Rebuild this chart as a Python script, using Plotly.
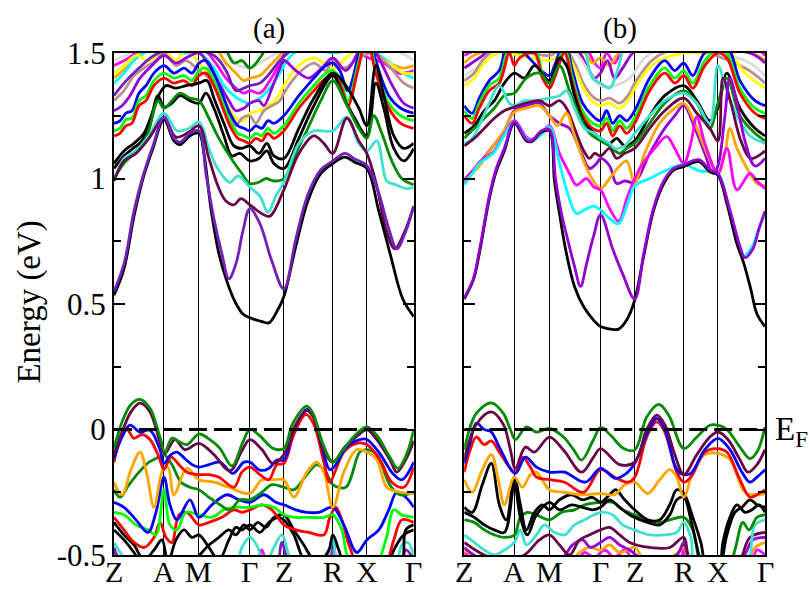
import plotly.graph_objects as go

# ---------------- axis data ----------------
K_TICKS = [0, 50, 85, 136, 170, 219, 253, 300]
K_LABELS = ["Z", "A", "M", "Γ", "Z", "R", "X", "Γ"]
E_TICKS = [-0.5, 0, 0.5, 1, 1.5]
E_LABELS = ["-0.5", "0", "0.5", "1", "1.5"]
E_MINOR = [-0.25, 0.25, 0.75, 1.25]
FERMI = [0.0, 0.0]
FERMI_K = [0, 300]

# ---------------- panel (a): conduction bands ----------------
A_C1 = [(0,0.535),(10,0.64),(20,0.85),(29,1.0),(39,1.12),(50,1.235),(60,1.15),(66,1.135),(76,1.17),(85,1.18),(90,1.10),(97,0.88),(105,0.70),(113,0.59),(121,0.51),(129,0.46),(136,0.445),(148,0.43),(155,0.425),(163,0.47),(170,0.53),(182,0.73),(194,0.91),(207,1.02),(219,1.06),(231,1.085),(241,1.065),(253,1.04),(265,0.87),(277,0.69),(289,0.52),(300,0.45)]
A_C2 = [(0,0.55),(10,0.66),(20,0.87),(29,1.01),(39,1.13),(50,1.245),(60,1.16),(66,1.145),(76,1.18),(85,1.19),(92,1.02),(100,0.84),(108,0.70),(115,0.60),(122,0.66),(129,0.79),(136,0.88),(146,0.82),(158,0.67),(170,0.56),(182,0.76),(194,0.935),(207,1.035),(219,1.07),(231,1.10),(241,1.078),(253,1.052),(265,0.94),(275,0.80),(283,0.72),(292,0.79),(300,0.89)]
A_C3 = [(0,0.99),(10,1.07),(22,1.10),(35,1.16),(50,1.24),(62,1.165),(75,1.185),(85,1.21),(95,1.08),(105,0.96),(112,0.91),(120,0.895),(127,0.92),(136,0.895),(148,0.86),(156,0.85),(170,0.955),(185,1.10),(200,1.17),(210,1.14),(219,1.10),(233,1.24),(245,1.15),(253,1.10),(263,0.97),(272,0.80),(281,0.72),(290,0.78),(300,0.89)]
A_C4 = [(0,0.99),(10,1.08),(22,1.11),(35,1.17),(50,1.26),(63,1.19),(75,1.20),(85,1.225),(95,1.12),(103,1.045),(116,0.985),(124,1.01),(136,0.965),(146,0.93),(154,0.865),(162,0.93),(170,0.985),(185,1.14),(200,1.19),(219,1.19),(233,1.245),(245,1.14),(253,1.11),(263,1.15),(273,0.99),(282,0.975),(292,0.96),(300,0.965)]
A_C5 = [(0,1.0),(10,1.06),(20,1.10),(33,1.17),(44,1.31),(50,1.28),(58,1.31),(66,1.34),(76,1.32),(85,1.31),(95,1.24),(105,1.16),(119,1.07),(128,1.02),(136,0.98),(145,0.985),(152,1.0),(160,0.99),(170,1.0),(182,1.10),(194,1.20),(207,1.31),(219,1.39),(232,1.30),(245,1.20),(253,1.16),(260,1.25),(268,1.18),(278,1.07),(288,1.0),(300,0.975)]
A_C6 = [(0,1.04),(10,1.09),(19,1.12),(28,1.15),(36,1.22),(44,1.33),(50,1.285),(58,1.30),(66,1.33),(76,1.31),(85,1.30),(92,1.34),(100,1.28),(110,1.17),(118,1.09),(126,1.10),(136,1.07),(145,1.08),(153,1.11),(160,1.06),(170,1.04),(185,1.16),(200,1.29),(219,1.41),(230,1.32),(241,1.24),(253,1.17),(262,1.38),(270,1.28),(280,1.12),(290,1.07),(300,1.12)]
A_C7 = [(0,1.06),(10,1.11),(20,1.14),(30,1.18),(40,1.28),(46,1.34),(52,1.37),(62,1.36),(72,1.37),(85,1.38),(93,1.39),(100,1.32),(110,1.22),(120,1.13),(128,1.12),(136,1.13),(145,1.10),(153,1.14),(160,1.09),(170,1.08),(185,1.20),(200,1.32),(219,1.42),(232,1.37),(245,1.28),(253,1.21),(262,1.45),(270,1.33),(280,1.17),(290,1.12),(300,1.14)]
A_C8 = [(0,1.17),(6,1.18),(12,1.21),(18,1.22),(25,1.29),(32,1.31),(40,1.37),(50,1.40),(60,1.38),(70,1.39),(78,1.37),(85,1.41),(92,1.42),(100,1.37),(108,1.29),(116,1.21),(124,1.16),(130,1.15),(136,1.14),(142,1.16),(148,1.15),(154,1.18),(160,1.16),(170,1.19),(185,1.28),(200,1.35),(212,1.40),(219,1.41),(226,1.38),(234,1.29),(244,1.43),(253,1.56),(262,1.42),(275,1.28),(287,1.22),(300,1.20)]
A_C9 = [(0,1.19),(6,1.20),(12,1.235),(18,1.24),(25,1.31),(32,1.33),(40,1.39),(50,1.42),(60,1.40),(70,1.41),(78,1.39),(85,1.43),(92,1.44),(100,1.39),(108,1.31),(116,1.23),(124,1.18),(130,1.17),(136,1.16),(142,1.18),(148,1.17),(154,1.20),(160,1.18),(170,1.21),(185,1.30),(200,1.37),(212,1.42),(219,1.43),(226,1.40),(234,1.31),(244,1.45),(253,1.58),(262,1.44),(275,1.30),(287,1.25),(300,1.23)]
A_C10 = [(0,1.22),(6,1.23),(12,1.26),(18,1.27),(25,1.34),(32,1.37),(40,1.42),(50,1.45),(60,1.42),(70,1.44),(78,1.42),(85,1.46),(92,1.47),(100,1.42),(108,1.34),(116,1.26),(124,1.21),(130,1.20),(136,1.19),(142,1.21),(148,1.20),(154,1.23),(160,1.22),(170,1.25),(185,1.33),(200,1.40),(212,1.45),(219,1.46),(226,1.43),(234,1.35),(244,1.48),(253,1.60),(262,1.47),(275,1.33),(287,1.28),(300,1.26)]
A_C11 = [(0,1.27),(8,1.29),(16,1.33),(26,1.40),(38,1.45),(50,1.49),(62,1.46),(72,1.48),(85,1.50),(95,1.45),(105,1.38),(115,1.31),(122,1.27),(130,1.28),(136,1.30),(145,1.31),(150,1.29),(158,1.36),(166,1.44),(170,1.47),(182,1.43),(195,1.40),(208,1.44),(219,1.48),(232,1.43),(244,1.50),(253,1.56),(265,1.48),(280,1.36),(290,1.30),(300,1.28)]
A_C12 = [(0,1.31),(10,1.35),(20,1.41),(30,1.44),(42,1.47),(50,1.50),(62,1.45),(72,1.47),(85,1.43),(95,1.40),(105,1.33),(115,1.26),(122,1.21),(128,1.24),(136,1.25),(142,1.22),(150,1.27),(158,1.29),(166,1.31),(170,1.34),(185,1.42),(200,1.46),(212,1.43),(219,1.47),(230,1.44),(245,1.48),(260,1.50),(275,1.45),(290,1.38),(300,1.36)]
A_C13 = [(0,1.42),(10,1.45),(22,1.49),(35,1.47),(50,1.51),(62,1.47),(72,1.52),(85,1.46),(95,1.42),(105,1.35),(115,1.28),(122,1.24),(130,1.23),(136,1.26),(145,1.27),(155,1.29),(165,1.33),(170,1.37),(185,1.45),(200,1.48),(219,1.44),(232,1.48),(245,1.52),(260,1.50),(275,1.46),(290,1.42),(300,1.42)]
A_C14 = [(0,1.38),(10,1.42),(20,1.47),(35,1.51),(50,1.52),(70,1.50),(85,1.50),(100,1.44),(110,1.37),(120,1.33),(128,1.31),(136,1.30),(146,1.32),(156,1.36),(166,1.42),(175,1.48),(190,1.52),(219,1.50),(250,1.52),(270,1.48),(285,1.43),(300,1.40)]
A_C15 = [(0,1.45),(15,1.48),(30,1.52),(85,1.53),(100,1.47),(112,1.40),(122,1.36),(130,1.34),(136,1.35),(146,1.34),(156,1.39),(166,1.46),(175,1.52),(230,1.53),(255,1.48),(270,1.46),(285,1.42),(300,1.43)]
A_C16 = [(0,1.40),(12,1.44),(25,1.49),(40,1.52),(100,1.52),(112,1.46),(122,1.42),(130,1.39),(136,1.40),(146,1.41),(156,1.45),(166,1.49),(175,1.53),(240,1.53),(260,1.50),(275,1.46),(290,1.44),(300,1.45)]
A_C17 = [(0,1.47),(20,1.50),(110,1.50),(125,1.45),(136,1.44),(150,1.47),(165,1.50),(280,1.51),(300,1.47)]
A_C18 = [(0,1.33),(10,1.38),(25,1.44),(40,1.49),(60,1.52),(100,1.49),(112,1.43),(122,1.35),(130,1.36),(136,1.37),(146,1.38),(156,1.42),(166,1.47),(180,1.52)]
A_C19 = [(110,1.55),(120,1.46),(128,1.47),(136,1.44),(146,1.48),(156,1.55)]

# ---------------- panel (a): valence bands ----------------
A_V1 = [(0,-0.075),(9,0.04),(17,0.10),(26,0.12),(36,0.085),(46,-0.03),(51,-0.09),(58,-0.035),(66,-0.05),(73,-0.06),(85,-0.018),(96,-0.04),(106,-0.075),(118,-0.145),(129,-0.05),(136,0.0),(146,-0.025),(159,-0.075),(170,-0.075),(179,0.025),(193,0.093),(199,0.065),(209,-0.056),(219,-0.13),(229,-0.082),(243,-0.016),(253,0.01),(263,-0.023),(276,-0.11),(284,-0.155),(293,-0.096),(300,0.0)]
A_V2 = [(0,-0.10),(9,0.0),(17,0.07),(26,0.105),(36,0.07),(46,-0.05),(51,-0.095),(61,-0.04),(71,-0.08),(85,-0.055),(100,-0.10),(116,-0.165),(128,-0.085),(136,-0.04),(148,-0.08),(159,-0.135),(170,-0.10),(182,0.02),(193,0.075),(200,0.045),(209,-0.08),(219,-0.13),(231,-0.07),(245,-0.02),(253,0.0),(263,-0.04),(276,-0.12),(283,-0.17),(292,-0.12),(300,-0.045)]
A_V3 = [(0,-0.115),(8,-0.03),(16,0.017),(26,-0.01),(36,-0.003),(46,-0.08),(50,-0.135),(57,-0.10),(63,-0.09),(72,-0.12),(79,-0.142),(85,-0.15),(95,-0.14),(106,-0.13),(119,-0.175),(130,-0.13),(136,-0.13),(146,-0.162),(155,-0.155),(163,-0.122),(170,-0.122),(180,0.0),(193,0.08),(200,0.05),(210,-0.10),(216,-0.16),(222,-0.14),(233,-0.069),(246,-0.04),(253,-0.04),(266,-0.096),(279,-0.175),(288,-0.20),(300,-0.13)]
A_V4 = [(0,-0.13),(6,-0.04),(13,0.0),(20,-0.035),(28,-0.02),(36,-0.04),(45,-0.11),(50,-0.16),(57,-0.11),(65,-0.14),(73,-0.17),(85,-0.18),(95,-0.18),(105,-0.19),(120,-0.23),(128,-0.17),(136,-0.15),(146,-0.18),(155,-0.20),(163,-0.14),(170,-0.135),(180,-0.02),(192,0.06),(200,0.02),(210,-0.13),(216,-0.21),(222,-0.16),(230,-0.09),(243,-0.055),(253,-0.06),(266,-0.12),(278,-0.21),(290,-0.23),(300,-0.15)]
A_V5 = [(0,-0.21),(8,-0.26),(17,-0.16),(26,-0.09),(33,-0.18),(40,-0.31),(49,-0.16),(54,-0.15),(60,-0.26),(73,-0.155),(85,-0.2),(100,-0.21),(115,-0.23),(136,-0.255),(148,-0.20),(160,-0.20),(170,-0.20),(180,-0.27),(193,-0.17),(203,-0.13),(210,-0.17),(219,-0.31),(230,-0.17),(243,-0.08),(253,-0.09),(263,-0.12),(273,-0.23),(286,-0.25),(300,-0.255)]
A_V6 = [(0,-0.24),(6,-0.27),(15,-0.22),(25,-0.17),(35,-0.13),(45,-0.11),(50,-0.10),(58,-0.14),(67,-0.21),(76,-0.23),(85,-0.24),(95,-0.27),(106,-0.30),(116,-0.32),(126,-0.28),(136,-0.28),(148,-0.25),(158,-0.22),(170,-0.23),(180,-0.24),(193,-0.18),(203,-0.14),(212,-0.17),(219,-0.22),(232,-0.23),(246,-0.09),(253,-0.08),(263,-0.10),(276,-0.22),(286,-0.26),(300,-0.25)]
A_V7 = [(0,-0.29),(10,-0.31),(22,-0.36),(34,-0.41),(42,-0.33),(50,-0.19),(56,-0.30),(63,-0.36),(76,-0.28),(85,-0.35),(98,-0.30),(113,-0.26),(125,-0.28),(136,-0.29),(150,-0.26),(162,-0.29),(170,-0.30),(182,-0.32),(193,-0.33),(205,-0.33),(219,-0.31),(230,-0.38),(243,-0.49),(253,-0.44),(265,-0.40),(275,-0.32),(283,-0.25),(292,-0.27),(300,-0.31)]
A_V8 = [(0,-0.33),(10,-0.34),(22,-0.38),(34,-0.40),(42,-0.42),(50,-0.24),(56,-0.38),(63,-0.40),(72,-0.33),(85,-0.34),(98,-0.35),(110,-0.32),(122,-0.31),(136,-0.31),(148,-0.30),(160,-0.31),(170,-0.34),(182,-0.35),(195,-0.35),(210,-0.35),(219,-0.34),(228,-0.40),(236,-0.52),(260,-0.55),(272,-0.44),(280,-0.32),(288,-0.34),(300,-0.35)]
A_V9 = [(0,-0.35),(10,-0.40),(20,-0.45),(30,-0.47),(40,-0.43),(46,-0.37),(52,-0.43),(58,-0.45),(65,-0.34),(73,-0.33),(85,-0.38),(95,-0.37),(108,-0.35),(120,-0.32),(128,-0.33),(136,-0.32),(148,-0.30),(158,-0.32),(170,-0.38),(182,-0.40),(195,-0.41),(210,-0.42),(216,-0.35),(222,-0.31),(228,-0.36),(236,-0.47),(250,-0.58),(270,-0.55),(280,-0.44),(288,-0.36),(300,-0.37)]
A_V10 = [(0,-0.37),(10,-0.42),(20,-0.46),(30,-0.52),(40,-0.48),(48,-0.44),(54,-0.53),(62,-0.44),(70,-0.40),(78,-0.43),(85,-0.42),(95,-0.47),(105,-0.52),(115,-0.44),(122,-0.39),(128,-0.40),(136,-0.38),(146,-0.41),(155,-0.37),(165,-0.35),(170,-0.36),(180,-0.42),(190,-0.52),(200,-0.55),(215,-0.48),(219,-0.42),(225,-0.48),(235,-0.58),(270,-0.58),(280,-0.48),(290,-0.42),(300,-0.40)]
A_V11 = [(0,-0.40),(10,-0.44),(20,-0.49),(30,-0.55),(60,-0.55),(80,-0.52),(95,-0.46),(105,-0.43),(115,-0.40),(122,-0.42),(130,-0.38),(136,-0.40),(144,-0.37),(152,-0.39),(160,-0.35),(170,-0.34),(180,-0.40),(190,-0.46),(200,-0.52),(219,-0.55),(285,-0.56),(292,-0.40),(300,-0.38)]
A_V12 = [(0,-0.45),(8,-0.50),(20,-0.56),(120,-0.55),(128,-0.47),(136,-0.43),(144,-0.47),(150,-0.55),(160,-0.47),(168,-0.42),(175,-0.50),(182,-0.56),(210,-0.55),(219,-0.43),(226,-0.55),(280,-0.55),(288,-0.46),(294,-0.45),(300,-0.50)]
A_V13 = [(0,-0.47),(8,-0.52),(160,-0.55),(168,-0.45),(175,-0.52),(210,-0.55),(219,-0.45),(226,-0.55),(285,-0.55),(292,-0.48),(300,-0.52)]
A_V14 = [(0,-0.48),(8,-0.53),(140,-0.55),(148,-0.48),(155,-0.55),(212,-0.55),(219,-0.48),(224,-0.55)]

# ---------------- panel (b): conduction bands ----------------
B_C1 = [(0,0.52),(9,0.595),(15,0.70),(25,0.92),(32,1.03),(40,1.11),(50,1.22),(62,1.15),(67,1.147),(77,1.185),(85,1.19),(90,0.99),(95,0.86),(102,0.70),(110,0.57),(119,0.49),(129,0.436),(136,0.41),(146,0.40),(154,0.40),(162,0.436),(170,0.515),(179,0.69),(189,0.875),(199,0.98),(209,1.034),(219,1.047),(234,1.067),(245,1.027),(253,1.014),(262,0.90),(272,0.74),(279,0.66),(286,0.556),(292,0.46),(300,0.41)]
B_C2 = [(0,0.525),(9,0.60),(15,0.71),(25,0.93),(32,1.04),(40,1.12),(50,1.225),(62,1.155),(67,1.15),(77,1.19),(85,1.195),(91,1.0),(97,0.86),(103,0.76),(110,0.65),(116,0.57),(122,0.66),(129,0.77),(136,0.855),(148,0.72),(158,0.62),(170,0.52),(179,0.70),(189,0.885),(199,0.99),(209,1.04),(219,1.055),(234,1.075),(245,1.035),(253,1.02),(265,0.875),(275,0.73),(280,0.685),(288,0.72),(294,0.80),(300,0.87)]
B_C3 = [(0,0.975),(8,1.02),(15,1.06),(29,1.10),(39,1.165),(50,1.225),(62,1.16),(67,1.15),(77,1.175),(85,1.205),(95,1.06),(104,0.93),(112,0.86),(120,0.875),(129,0.89),(136,0.875),(145,0.84),(154,0.82),(163,0.90),(170,0.97),(185,1.0),(200,1.03),(219,1.055),(235,1.03),(253,1.02),(262,0.91),(270,0.78),(278,0.69),(286,0.72),(294,0.80),(300,0.86)]
B_C4 = [(0,0.98),(8,1.025),(15,1.065),(29,1.105),(39,1.17),(50,1.23),(62,1.165),(67,1.155),(77,1.18),(85,1.21),(95,1.10),(105,1.02),(112,0.974),(122,1.0),(129,0.967),(136,0.954),(145,0.88),(154,0.83),(163,0.93),(175,1.04),(190,1.12),(202,1.167),(210,1.12),(219,1.06),(226,1.14),(232,1.245),(240,1.14),(253,1.02),(262,1.12),(272,0.955),(285,1.02),(292,0.99),(300,0.96)]
B_C5 = [(0,0.99),(15,1.05),(29,1.13),(40,1.19),(50,1.265),(62,1.28),(75,1.29),(85,1.25),(93,1.21),(102,1.26),(110,1.17),(120,1.06),(129,0.99),(136,0.96),(145,1.0),(155,1.05),(162,1.07),(170,0.98),(180,1.10),(195,1.22),(210,1.28),(219,1.30),(230,1.22),(240,1.12),(253,1.02),(260,1.10),(265,1.20),(272,1.12),(285,1.02),(292,0.98),(300,0.97)]
B_C6 = [(0,0.995),(15,1.06),(29,1.13),(40,1.19),(50,1.27),(62,1.29),(75,1.30),(85,1.25),(95,1.22),(105,1.20),(115,1.12),(125,1.04),(132,1.06),(136,1.08),(145,1.05),(152,0.98),(160,0.99),(170,0.985),(185,1.10),(200,1.20),(210,1.25),(219,1.29),(230,1.20),(240,1.10),(248,1.02),(253,1.05),(260,1.25),(265,1.40),(272,1.30),(280,1.15),(290,1.05),(300,1.08)]
B_C7 = [(0,1.13),(10,1.16),(20,1.20),(30,1.24),(40,1.27),(50,1.285),(62,1.30),(75,1.31),(85,1.29),(95,1.31),(102,1.28),(110,1.20),(118,1.12),(125,1.08),(130,1.10),(136,1.09),(145,1.12),(152,1.08),(160,1.10),(170,1.12),(185,1.20),(200,1.27),(219,1.32),(232,1.26),(245,1.20),(253,1.15),(258,1.40),(266,1.30),(276,1.15),(286,1.08),(300,1.11)]
B_C8 = [(0,1.14),(8,1.16),(16,1.22),(25,1.30),(35,1.37),(45,1.30),(50,1.29),(60,1.31),(70,1.31),(85,1.32),(95,1.33),(102,1.35),(110,1.28),(120,1.20),(130,1.18),(136,1.16),(145,1.14),(150,1.12),(160,1.13),(170,1.18),(185,1.25),(200,1.31),(219,1.34),(232,1.30),(245,1.22),(253,1.45),(262,1.35),(272,1.25),(285,1.17),(300,1.14)]
B_C9 = [(0,1.16),(10,1.20),(20,1.24),(30,1.28),(40,1.33),(50,1.34),(62,1.40),(75,1.42),(85,1.38),(95,1.45),(105,1.35),(115,1.25),(125,1.18),(136,1.15),(145,1.13),(155,1.10),(162,1.12),(170,1.14),(185,1.22),(200,1.30),(219,1.35),(232,1.30),(245,1.20),(253,1.30),(262,1.40),(275,1.25),(290,1.18),(300,1.15)]
B_C10 = [(0,1.18),(10,1.21),(20,1.27),(30,1.31),(40,1.38),(50,1.42),(60,1.40),(70,1.45),(85,1.39),(95,1.48),(102,1.45),(110,1.33),(120,1.22),(130,1.18),(136,1.16),(145,1.14),(152,1.16),(160,1.13),(170,1.15),(185,1.25),(200,1.33),(219,1.37),(232,1.31),(245,1.23),(253,1.28),(262,1.42),(275,1.28),(290,1.20),(300,1.17)]
B_C11 = [(0,1.25),(8,1.22),(15,1.28),(25,1.35),(35,1.38),(45,1.50),(50,1.45),(55,1.48),(70,1.50),(78,1.40),(85,1.36),(90,1.40),(100,1.50),(108,1.38),(118,1.25),(128,1.20),(136,1.19),(142,1.22),(148,1.17),(155,1.21),(162,1.18),(170,1.22),(185,1.35),(200,1.42),(210,1.38),(219,1.41),(228,1.36),(240,1.45),(253,1.50),(262,1.48),(275,1.34),(290,1.26),(300,1.24)]
B_C12 = [(0,1.27),(8,1.24),(15,1.30),(25,1.37),(35,1.40),(45,1.52),(55,1.50),(70,1.52),(78,1.42),(85,1.38),(90,1.42),(100,1.52),(108,1.40),(118,1.27),(128,1.22),(136,1.21),(142,1.24),(148,1.19),(155,1.23),(162,1.20),(170,1.24),(185,1.37),(200,1.44),(210,1.40),(219,1.43),(228,1.38),(240,1.47),(253,1.52),(262,1.50),(275,1.36),(290,1.28),(300,1.26)]
B_C13 = [(0,1.29),(8,1.26),(15,1.32),(25,1.39),(35,1.43),(45,1.54),(85,1.41),(90,1.45),(100,1.54),(108,1.43),(118,1.30),(128,1.25),(136,1.23),(142,1.27),(148,1.22),(155,1.25),(162,1.23),(170,1.27),(185,1.40),(200,1.47),(210,1.43),(219,1.46),(228,1.41),(240,1.50),(262,1.52),(275,1.39),(290,1.31),(300,1.29)]
B_C14 = [(0,1.37),(10,1.40),(20,1.46),(35,1.50),(85,1.47),(100,1.50),(110,1.44),(120,1.35),(130,1.30),(136,1.29),(145,1.30),(155,1.28),(165,1.32),(170,1.36),(190,1.46),(219,1.50),(240,1.50),(260,1.52),(280,1.42),(300,1.36)]
B_C15 = [(0,1.39),(10,1.42),(20,1.48),(35,1.52),(85,1.49),(100,1.52),(110,1.46),(120,1.37),(130,1.32),(136,1.31),(145,1.32),(155,1.30),(165,1.34),(170,1.38),(190,1.48),(219,1.52),(280,1.44),(300,1.38)]
B_C16 = [(0,1.41),(15,1.45),(35,1.52),(110,1.50),(125,1.42),(136,1.37),(150,1.37),(165,1.40),(180,1.48),(200,1.52),(280,1.47),(300,1.41)]
B_C17 = [(0,1.44),(15,1.48),(30,1.52),(110,1.52),(122,1.45),(130,1.40),(136,1.42),(143,1.47),(150,1.40),(158,1.44),(168,1.50),(180,1.53),(285,1.50),(300,1.46)]
B_C18 = [(0,1.49),(20,1.52),(120,1.52),(130,1.46),(136,1.44),(142,1.50),(150,1.46),(160,1.52),(290,1.52),(300,1.49)]
B_C19 = [(0,1.46),(15,1.50),(120,1.50),(128,1.46),(136,1.48),(145,1.45),(155,1.50),(285,1.50),(300,1.47)]
B_C20 = [(120,1.55),(128,1.40),(136,1.38),(145,1.36),(152,1.42),(160,1.55)]

# ---------------- panel (b): valence bands ----------------
B_V1 = [(0,-0.082),(12,0.064),(27,0.106),(39,0.064),(46,0.0),(51,-0.04),(62,0.01),(72,-0.01),(85,0.004),(99,-0.03),(109,-0.08),(117,-0.122),(129,-0.04),(136,0.008),(146,-0.023),(159,-0.076),(170,-0.082),(182,0.05),(194,0.10),(204,0.057),(219,-0.076),(232,-0.03),(245,0.017),(253,0.017),(262,0.0),(275,-0.07),(285,-0.116),(292,-0.09),(300,0.01)]
B_V2 = [(0,-0.12),(12,0.02),(27,0.07),(39,0.02),(46,-0.08),(51,-0.155),(61,-0.07),(70,-0.09),(85,-0.03),(99,-0.082),(117,-0.17),(129,-0.11),(136,-0.076),(155,-0.14),(170,-0.13),(182,0.0),(192,0.057),(200,0.02),(210,-0.10),(219,-0.18),(232,-0.10),(245,-0.03),(253,-0.01),(263,-0.04),(275,-0.12),(283,-0.17),(292,-0.14),(300,-0.08)]
B_V3 = [(0,-0.135),(6,-0.05),(12,0.025),(20,0.0),(27,-0.01),(35,-0.07),(51,-0.175),(61,-0.11),(72,-0.15),(85,-0.17),(100,-0.17),(121,-0.21),(136,-0.155),(151,-0.195),(160,-0.18),(170,-0.135),(182,-0.02),(192,0.044),(200,0.0),(212,-0.16),(219,-0.18),(226,-0.175),(240,-0.08),(253,-0.035),(265,-0.08),(277,-0.17),(285,-0.21),(292,-0.19),(300,-0.16)]
B_V4 = [(0,-0.17),(6,-0.08),(12,-0.03),(20,-0.06),(27,-0.045),(35,-0.09),(51,-0.17),(58,-0.11),(66,-0.15),(72,-0.19),(85,-0.20),(100,-0.21),(119,-0.25),(136,-0.16),(150,-0.19),(163,-0.21),(170,-0.19),(182,-0.03),(192,0.03),(200,-0.01),(212,-0.17),(219,-0.21),(226,-0.19),(240,-0.09),(253,-0.076),(262,-0.09),(275,-0.20),(285,-0.27),(292,-0.26),(300,-0.24)]
B_V5 = [(0,-0.20),(8,-0.25),(17,-0.17),(27,-0.10),(34,-0.20),(40,-0.30),(50,-0.19),(58,-0.23),(66,-0.18),(72,-0.17),(85,-0.24),(100,-0.25),(118,-0.26),(136,-0.255),(150,-0.26),(160,-0.22),(170,-0.21),(183,-0.255),(195,-0.20),(205,-0.16),(212,-0.19),(219,-0.27),(228,-0.17),(240,-0.10),(253,-0.095),(265,-0.12),(280,-0.25),(292,-0.26),(300,-0.255)]
B_V6 = [(0,-0.31),(8,-0.33),(18,-0.22),(27,-0.135),(35,-0.30),(42,-0.36),(50,-0.19),(56,-0.30),(62,-0.40),(70,-0.33),(78,-0.30),(85,-0.32),(95,-0.28),(107,-0.26),(118,-0.28),(128,-0.27),(136,-0.29),(145,-0.26),(151,-0.24),(160,-0.28),(170,-0.32),(183,-0.36),(195,-0.36),(205,-0.30),(212,-0.24),(219,-0.255),(228,-0.35),(236,-0.45),(242,-0.56),(253,-0.60),(258,-0.45),(265,-0.35),(272,-0.30),(280,-0.33),(287,-0.32),(294,-0.30),(300,-0.33)]
B_V7 = [(0,-0.33),(10,-0.35),(20,-0.38),(30,-0.40),(40,-0.41),(50,-0.22),(56,-0.35),(63,-0.42),(72,-0.34),(85,-0.29),(95,-0.32),(107,-0.30),(118,-0.31),(128,-0.32),(136,-0.31),(145,-0.28),(155,-0.31),(165,-0.34),(170,-0.35),(183,-0.37),(195,-0.38),(205,-0.34),(212,-0.28),(219,-0.27),(226,-0.36),(234,-0.50),(242,-0.62),(253,-0.58),(262,-0.42),(270,-0.33),(277,-0.31),(285,-0.28),(292,-0.30),(300,-0.31)]
B_V8 = [(0,-0.36),(10,-0.37),(20,-0.40),(30,-0.42),(40,-0.43),(50,-0.42),(56,-0.35),(63,-0.33),(72,-0.34),(85,-0.36),(97,-0.33),(110,-0.32),(120,-0.30),(136,-0.29),(148,-0.29),(158,-0.32),(170,-0.34),(182,-0.36),(195,-0.37),(205,-0.36),(219,-0.35),(228,-0.40),(236,-0.55),(245,-0.60),(260,-0.60),(270,-0.48),(278,-0.37),(284,-0.40),(292,-0.35),(300,-0.34)]
B_V9 = [(0,-0.42),(10,-0.45),(20,-0.48),(30,-0.50),(40,-0.48),(50,-0.45),(56,-0.40),(62,-0.46),(72,-0.42),(80,-0.38),(90,-0.41),(100,-0.42),(110,-0.38),(120,-0.36),(136,-0.33),(148,-0.34),(158,-0.38),(170,-0.40),(185,-0.42),(200,-0.42),(212,-0.41),(219,-0.37),(226,-0.43),(232,-0.55),(280,-0.55),(290,-0.38),(300,-0.36)]
B_V10 = [(0,-0.45),(20,-0.50),(40,-0.52),(60,-0.50),(75,-0.44),(85,-0.42),(95,-0.46),(105,-0.50),(115,-0.44),(125,-0.42),(136,-0.40),(145,-0.39),(155,-0.42),(165,-0.45),(185,-0.47),(205,-0.47),(219,-0.43),(226,-0.52),(270,-0.55),(285,-0.43),(300,-0.41)]
B_V11 = [(0,-0.47),(20,-0.52),(95,-0.52),(108,-0.46),(118,-0.44),(126,-0.47),(136,-0.45),(145,-0.43),(155,-0.46),(165,-0.48),(180,-0.52),(212,-0.50),(219,-0.45),(226,-0.52),(275,-0.52),(288,-0.44),(300,-0.43)]
B_V12 = [(0,-0.48),(30,-0.55),(100,-0.55),(115,-0.49),(125,-0.47),(136,-0.48),(145,-0.46),(155,-0.49),(170,-0.47),(180,-0.52),(210,-0.50),(219,-0.47),(226,-0.53),(280,-0.53),(290,-0.47),(300,-0.45)]
B_V13 = [(0,-0.49),(20,-0.53),(110,-0.53),(120,-0.49),(130,-0.51),(140,-0.48),(150,-0.51),(160,-0.48),(170,-0.52),(215,-0.52),(219,-0.48),(224,-0.53),(285,-0.53),(292,-0.48),(300,-0.50)]

# ---------------- colours (xmgrace palette) ----------------
BLACK, RED, LIME, BLUE = "#000000", "#ff0000", "#00ff00", "#0000ff"
YELLOW, BROWN, GREY, VIOLET = "#ffff00", "#bc8f8f", "#dcdcdc", "#9400d3"
CYAN, MAGENTA, ORANGE, INDIGO = "#00ffff", "#ff00ff", "#ffa500", "#7221bc"
MAROON, TURQ, GREEN4 = "#670748", "#40e0d0", "#008b00"

PANEL_A = [
    (A_C17, GREY), (A_C19, GREEN4), (A_C15, MAGENTA), (A_C16, ORANGE), (A_C14, CYAN),
    (A_C13, YELLOW), (A_C12, BROWN), (A_C18, INDIGO), (A_C11, VIOLET), (A_C10, BLUE),
    (A_C9, LIME), (A_C8, RED), (A_C7, BLACK), (A_C6, BLACK), (A_C5, GREEN4),
    (A_C4, TURQ), (A_C3, MAROON), (A_C1, BLACK), (A_C2, INDIGO),
    (A_V14, MAGENTA), (A_V13, INDIGO), (A_V12, TURQ), (A_V11, BLACK), (A_V10, BLACK),
    (A_V9, RED), (A_V8, LIME), (A_V7, BLUE), (A_V6, GREEN4), (A_V5, ORANGE),
    (A_V4, RED), (A_V3, BLUE), (A_V2, MAROON), (A_V1, GREEN4),
]
PANEL_B = [
    (B_C18, MAGENTA), (B_C19, ORANGE), (B_C17, VIOLET), (B_C16, GREY), (B_C15, BROWN),
    (B_C14, YELLOW), (B_C20, TURQ), (B_C13, BLUE), (B_C12, LIME), (B_C11, RED),
    (B_C10, BLACK), (B_C9, GREEN4), (B_C8, TURQ), (B_C7, MAROON), (B_C6, VIOLET),
    (B_C5, ORANGE), (B_C4, MAGENTA), (B_C3, CYAN), (B_C1, BLACK), (B_C2, VIOLET),
    (B_V13, MAGENTA), (B_V12, ORANGE), (B_V11, VIOLET), (B_V10, MAROON), (B_V9, TURQ),
    (B_V8, GREEN4), (B_V7, BLACK), (B_V6, BLACK), (B_V5, ORANGE), (B_V4, RED),
    (B_V3, BLUE), (B_V2, MAROON), (B_V1, GREEN4),
]

fig = go.Figure()
for panel, (xa, ya) in ((PANEL_A, ("x", "y")), (PANEL_B, ("x2", "y2"))):
    for band, color in panel:
        fig.add_trace(go.Scatter(
            x=[p[0] for p in band], y=[p[1] for p in band], mode="lines",
            line=dict(color=color, width=2.8, shape="spline", smoothing=1.0),
            xaxis=xa, yaxis=ya, showlegend=False, hoverinfo="skip"))
    fig.add_trace(go.Scatter(
        x=FERMI_K, y=FERMI, mode="lines",
        line=dict(color="black", width=3, dash="18px,7px"),
        xaxis=xa, yaxis=ya, showlegend=False, hoverinfo="skip"))

SERIF = "Liberation Serif"
W, H = 809, 589
ML, MR, MT, MB = 114, 43.5, 53, 34
PW = W - ML - MR
PH = H - MT - MB

def px_x(px):
    return (px - ML) / PW

def px_y(py):
    return (H - MB - py) / PH

xcommon = dict(range=[0, 300], tickvals=K_TICKS, ticktext=K_LABELS, ticks="",
               showticklabels=False,
               showgrid=True, gridcolor="black", gridwidth=1.2, zeroline=False,
               showline=True, linecolor="black", linewidth=2, mirror=True,
               automargin=False, fixedrange=True)
ycommon = dict(range=[-0.5, 1.5], tickvals=E_TICKS, ticktext=E_LABELS,
               ticks="inside", ticklen=11, tickwidth=1.5, tickcolor="black",
               minor=dict(tickvals=E_MINOR, ticks="inside", ticklen=7, tickwidth=1.5, tickcolor="black"),
               showgrid=False, zeroline=False, showline=True, linecolor="black",
               linewidth=2, mirror="ticks", automargin=False,
               tickfont=dict(family=SERIF, size=31, color="black"), fixedrange=True)

annotations = [
    dict(text="(a)", x=px_x(269.5), y=px_y(28.5), xref="paper", yref="paper",
         showarrow=False, xanchor="center", yanchor="middle",
         font=dict(family=SERIF, size=29, color="black")),
    dict(text="(b)", x=px_x(620), y=px_y(28.5), xref="paper", yref="paper",
         showarrow=False, xanchor="center", yanchor="middle",
         font=dict(family=SERIF, size=29, color="black")),
    dict(text="Energy (eV)", x=px_x(29), y=px_y(302.5), xref="paper", yref="paper",
         showarrow=False, xanchor="center", yanchor="middle", textangle=-90,
         font=dict(family=SERIF, size=33, color="black")),
    dict(text="E<sub>F</sub>", x=px_x(774), y=px_y(431), xref="paper", yref="paper",
         showarrow=False, xanchor="left", yanchor="middle",
         font=dict(family=SERIF, size=33, color="black")),
]
# k-point labels under each panel, placed through each panel's x axis
for xr in ("x", "x2"):
    for kv, lab in zip(K_TICKS, K_LABELS):
        annotations.append(dict(text=lab, x=kv, xref=xr, y=px_y(588.5), yref="paper",
                                showarrow=False, xanchor="center", yanchor="bottom",
                                borderpad=0,
                                font=dict(family=SERIF, size=30, color="black")))

fig.update_layout(
    width=W, height=H, margin=dict(l=ML, r=MR, t=MT, b=MB, autoexpand=False),
    paper_bgcolor="white", plot_bgcolor="white",
    xaxis=dict(domain=[0, 300 / PW], anchor="y", **xcommon),
    xaxis2=dict(domain=[350.5 / PW, 1], anchor="y2", **xcommon),
    yaxis=dict(domain=[0, 1], anchor="x", **ycommon),
    yaxis2=dict(domain=[0, 1], anchor="x2", showticklabels=False, **ycommon),
    annotations=annotations,
)

fig.write_html("out.html")
